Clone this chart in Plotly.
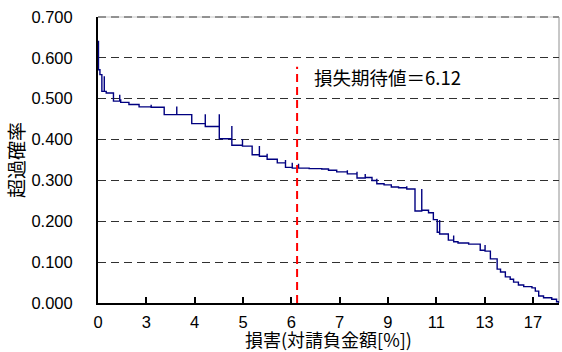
import numpy as np
import plotly.graph_objects as go

# Category-axis ticks (one label every 100 scenarios, sorted by loss)
tick_index = [0, 100, 200, 300, 400, 500, 600, 700, 800, 900]
tick_labels = ["0", "3", "4", "5", "6", "7", "9", "11", "13", "17"]
n_scenarios = 954

# Exceedance curve (scenario index, probability)
step_index = [0, 1, 4, 8, 13, 13, 17, 32, 45, 45, 47, 64, 85, 110, 110, 137,
              163, 163, 194, 222, 222, 251, 251, 277, 277, 299, 299, 319, 334,
              334, 350, 350, 371, 388, 388, 402, 402, 415, 415, 437, 463, 477,
              494, 516, 516, 536, 536, 553, 553, 567, 577, 577, 592, 607, 622,
              639, 639, 656, 670, 670, 684, 694, 702, 707, 707, 725, 736, 736,
              745, 767, 791, 801, 801, 812, 826, 833, 843, 853, 860, 870, 881,
              898, 905, 912, 922, 939, 949, 954]
exceed_prob = [0.640, 0.571, 0.559, 0.518, 0.555, 0.518, 0.514, 0.494, 0.510,
               0.497, 0.491, 0.486, 0.480, 0.485, 0.479, 0.461, 0.481, 0.461,
               0.439, 0.462, 0.432, 0.462, 0.402, 0.433, 0.386, 0.401, 0.384,
               0.363, 0.384, 0.359, 0.365, 0.352, 0.343, 0.350, 0.332, 0.343,
               0.330, 0.341, 0.330, 0.329, 0.328, 0.325, 0.321, 0.325, 0.316,
               0.321, 0.306, 0.316, 0.307, 0.300, 0.304, 0.292, 0.289, 0.284,
               0.282, 0.286, 0.279, 0.225, 0.279, 0.227, 0.221, 0.204, 0.173,
               0.203, 0.169, 0.154, 0.165, 0.150, 0.147, 0.144, 0.129, 0.142,
               0.127, 0.108, 0.083, 0.076, 0.064, 0.058, 0.051, 0.044, 0.040,
               0.037, 0.029, 0.017, 0.013, 0.009, 0.003, 0.000]

expected_loss = 6.12
ev_line_top = 0.578

tick_values = [float(t) for t in tick_labels]
ev_pos = float(np.interp(expected_loss, tick_values, tick_index))

CJK = "Noto Sans CJK JP"
NUM = "Liberation Sans, Noto Sans CJK JP"

fig = go.Figure()
fig.add_trace(go.Scatter(
    x=step_index, y=exceed_prob, mode="lines", line_shape="hv",
    line=dict(color="#000080", width=1.4), showlegend=False, hoverinfo="skip"))
fig.add_trace(go.Scatter(
    x=[ev_pos, ev_pos], y=[0, ev_line_top], mode="lines",
    line=dict(color="#ff0000", width=2, dash="8px,5px"), showlegend=False))

fig.add_annotation(
    x=ev_pos, y=0.552, xref="x", yref="y", xanchor="left", yanchor="middle",
    xshift=15, showarrow=False, text=f"損失期待値＝{expected_loss:.2f}",
    font=dict(family=CJK, size=18.5, color="#000000"))

# Y-axis title placed as rotated text
fig.add_annotation(
    x=-0.18, y=0.5, xref="paper", yref="paper", xanchor="center",
    yanchor="middle", showarrow=False, textangle=-90, text="超過確率",
    font=dict(family=CJK, size=19, color="#000000"))

# Plot-area border (top light gray + dashed top gridline, right gray)
fig.add_shape(type="line", xref="paper", yref="paper", x0=0, x1=1, y0=1, y1=1,
              line=dict(color="#c8c8c8", width=1), layer="below")
fig.add_shape(type="line", xref="paper", yref="paper", x0=0, x1=1, y0=1, y1=1,
              line=dict(color="#404040", width=1, dash="8px,5px"), layer="below")
fig.add_shape(type="line", xref="paper", yref="paper", x0=1, x1=1, y0=0, y1=1,
              line=dict(color="#909090", width=1), layer="below")

fig.update_layout(
    width=562, height=352,
    margin=dict(l=98, r=3, t=17, b=49),
    paper_bgcolor="white", plot_bgcolor="white",
    xaxis=dict(
        range=[0, n_scenarios], tickmode="array", tickvals=tick_index,
        ticktext=tick_labels, ticks="inside", ticklen=6, tickwidth=1.5,
        tickcolor="#000000", showgrid=False, zeroline=False,
        showline=True, linecolor="#000000", linewidth=2, automargin=False,
        tickfont=dict(family=NUM, size=16.5, color="#000000"),
        ticklabelstandoff=3,
        title=dict(text="損害(対請負金額[%])", standoff=3,
                   font=dict(family=CJK, size=18, color="#000000"))),
    yaxis=dict(
        range=[0, 0.7], dtick=0.1, tick0=0, tickformat=".3f",
        showgrid=True, gridcolor="#303030", gridwidth=1, griddash="8px,5px",
        zeroline=False, showline=True, linecolor="#000000", linewidth=2,
        ticks="", ticklabelstandoff=20, automargin=False,
        tickfont=dict(family=NUM, size=16.5, color="#000000")),
)

fig.write_html(
    "out.html",
    config={"displayModeBar": False},
    post_script="document.body.style.margin='0px';document.body.style.padding='0px';")
